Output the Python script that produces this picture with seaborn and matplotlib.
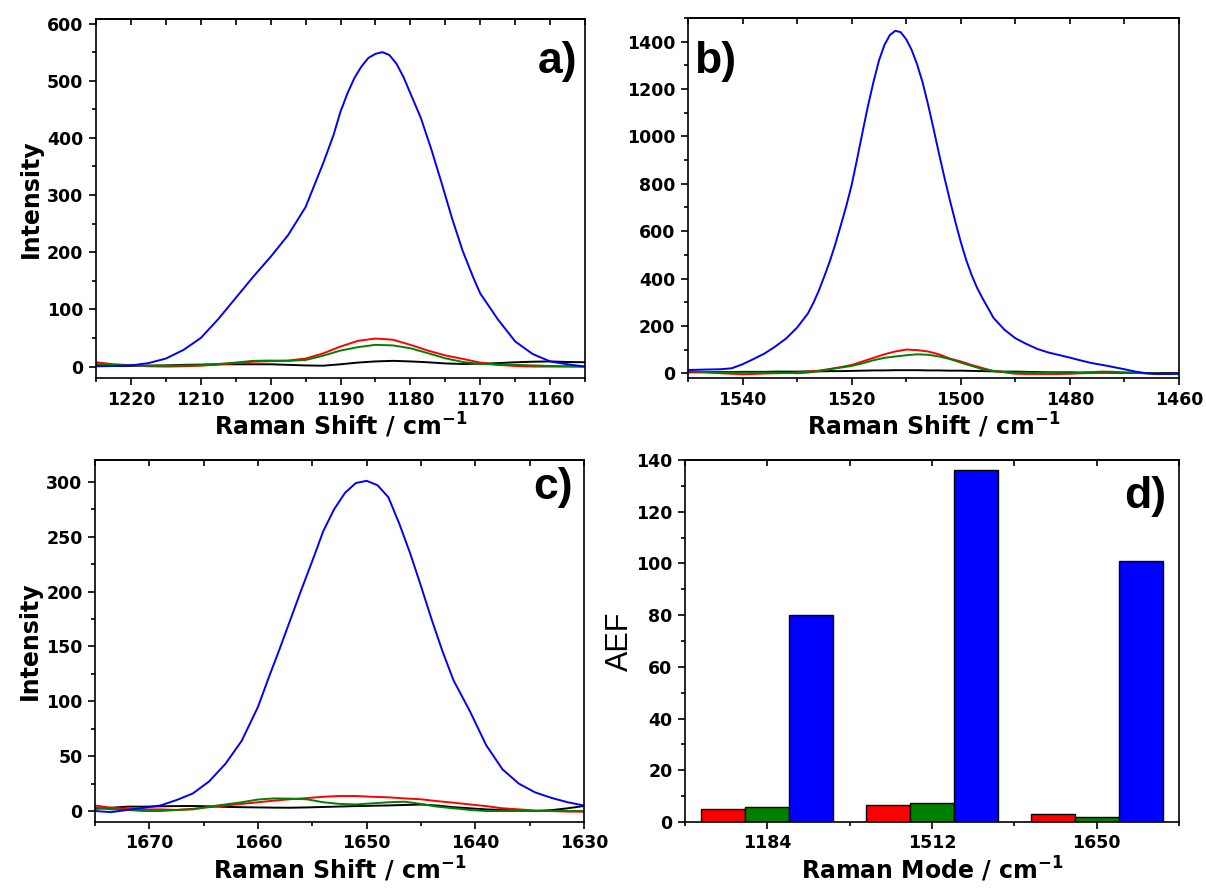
import matplotlib
matplotlib.use("Agg")
import matplotlib.pyplot as plt
from matplotlib.ticker import MultipleLocator, FixedLocator
import pandas as pd
import seaborn as sns

sns.set_style("ticks")
plt.rcParams.update({
    "font.family": ["DejaVu Sans"],
    "font.weight": "bold",
    "axes.labelweight": "bold",
    "mathtext.fontset": "dejavusans",
    "mathtext.default": "bf",
    "axes.linewidth": 1.2,
    "xtick.labelsize": 12.5,
    "ytick.labelsize": 12.5,
    "axes.edgecolor": "black",
    "axes.labelcolor": "black",
    "text.color": "black",
    "xtick.color": "black",
    "ytick.color": "black",
})

# ---------------- spectra around the 1184 cm-1 band ----------------
shift_a = [1225, 1222.5, 1220, 1217.5, 1215, 1212.5, 1210, 1207.5, 1205, 1202.5,
           1200, 1197.5, 1195, 1192.5, 1190, 1187.5, 1185, 1182.5, 1180, 1177.5,
           1175, 1172.5, 1170, 1167.5, 1165, 1162.5, 1160, 1157.5, 1155]
black_a = [0.5, 1, 1, 1.5, 2, 3, 3.5, 4, 4, 4, 4, 3, 2, 1.5, 4, 7, 9, 10, 9, 7.5,
           5.5, 4.5, 5, 6, 7.5, 8.5, 9, 8, 7.5]
red_a = [7.5, 4, 2.5, 0.5, 0, 0.5, 1.5, 3.5, 6, 8.5, 9.5, 10.5, 14, 23, 35, 45, 49,
         47, 38, 28, 19.5, 13.5, 7, 3, 1, 0, 0, 0, 0]
green_a = [4.5, 3, 2, 1.5, 1.5, 2, 2.5, 4.5, 7, 10, 10.5, 10, 11.5, 19, 28, 34, 38,
           37, 32, 23.5, 14.5, 8, 4.7, 3.5, 3, 2, 1, 0.5, 0]
shift_a_blue = [1225, 1222.5, 1220, 1217.5, 1215, 1212.5, 1210, 1207.5, 1205, 1202.5,
                1200, 1197.5, 1195, 1192.5, 1191, 1190, 1189, 1188, 1187, 1186, 1185,
                1184, 1183, 1182, 1181, 1180, 1178.5, 1177, 1175.5, 1174, 1172.5,
                1171, 1170, 1167.5, 1165, 1162.5, 1160, 1157.5, 1155]
blue_a = [1, 1, 2, 6, 14, 29, 50, 83, 120, 157, 192, 230, 279, 355, 405, 446, 478,
          505, 525, 540, 547, 550, 545, 530, 507, 478, 435, 380, 320, 258, 202, 156,
          128, 83, 44, 22, 9, 4, 0]

# ---------------- spectra around the 1512 cm-1 band ----------------
shift_b = [1550, 1548, 1546, 1544, 1542, 1540, 1538, 1536, 1534, 1532, 1530, 1528,
           1526, 1524, 1522, 1520, 1518, 1516, 1514, 1512, 1510, 1508, 1506, 1504,
           1502, 1500, 1498, 1496, 1494, 1492, 1490, 1488, 1486, 1484, 1482, 1480,
           1478, 1476, 1474, 1472, 1470, 1468, 1466, 1464, 1462, 1460]
black_b = [4, 4, 5, 5, 5, 6, 6, 6, 7, 7, 7, 8, 8, 9, 9, 10, 11, 12, 12, 13, 13, 13,
           12, 12, 11, 11, 10, 9, 8, 7, 7, 6, 5, 4, 4, 4, 3, 3, 3, 2, 2, 2, 1, 1, 1, 0]
red_b = [7, 5, 3, 0, -2, -4, -3, -1, 0, 1, 4, 7, 11, 18, 26, 35, 50, 65, 80, 92, 100,
         98, 92, 80, 62, 50, 35, 22, 9, 4, -2, -3, -3, -3, -3, -2, 0, 1, 2, 3, 3, 2,
         0, -2, -3, -4]
green_b = [10, 7, 4, 3, 3, 3, 3, 3, 3, 2, 0, 3, 9, 17, 24, 31, 42, 55, 65, 71, 76, 80,
           78, 71, 60, 45, 31, 17, 10, 5, 3, 3, 2, 2, 1, 0, 2, 5, 7, 6, 3, 1, 0, -1,
           -2, -3]
shift_b_blue = [1550, 1548, 1546, 1544, 1542, 1540, 1538, 1536, 1534, 1532, 1530,
                1528, 1527, 1526, 1525, 1524, 1523, 1522, 1521, 1520, 1519, 1518,
                1517, 1516, 1515, 1514, 1513, 1512, 1511, 1510, 1509, 1508, 1507,
                1506, 1505, 1504, 1503, 1502, 1501, 1500, 1499, 1498, 1497, 1496,
                1494, 1492, 1490, 1488, 1486, 1484, 1482, 1480, 1478, 1476, 1474,
                1472, 1470, 1468, 1466, 1464, 1462, 1460]
blue_b = [14, 15, 16, 17, 21, 38, 60, 83, 113, 147, 193, 253, 298, 350, 410, 473,
          545, 624, 705, 795, 905, 1019, 1130, 1230, 1320, 1386, 1428, 1446, 1440,
          1410, 1365, 1304, 1228, 1135, 1033, 928, 827, 731, 640, 554, 478, 414,
          360, 316, 234, 184, 148, 124, 103, 88, 77, 66, 54, 43, 35, 26, 17, 7, 0,
          -3, -3, 0]

# ---------------- spectra around the 1650 cm-1 band ----------------
shift_c = [1675, 1673.5, 1672, 1670.5, 1669, 1667.5, 1666, 1664.5, 1663, 1661.5,
           1660, 1658.5, 1657, 1655.5, 1654, 1652.5, 1651, 1649.5, 1648, 1646.5,
           1645, 1643.5, 1642, 1640.5, 1639, 1637.5, 1636, 1634.5, 1633, 1631.5, 1630]
black_c = [2, 3, 4, 4, 4.3, 4.5, 4.6, 4.3, 3.8, 3.5, 3.3, 3.1, 3, 3.3, 3.7, 4.1, 4.5,
           4.8, 5.1, 5.5, 5.9, 5, 3.5, 2.5, 1.5, 1, 0.5, 0, 0.8, 2.5, 4.6]
red_c = [5, 3, 2, 1.5, 1.5, 1, 2, 3.5, 5, 6.5, 8, 9.5, 10.8, 11.8, 13, 13.7, 13.7, 13,
         12.5, 11.5, 10.7, 9, 7.6, 6, 4.5, 2.5, 1.5, 0.5, 0, -0.5, -0.6]
green_c = [3, 1.5, 1, 0, 0, 1, 1.5, 4, 6, 8, 10.5, 11.5, 11.3, 10.7, 8, 6.5, 6, 7, 8,
           8.5, 6.5, 4, 2.5, 1, 0, 0, 0, 0, 0, 0, 0]
shift_c_blue = [1675, 1673.5, 1672, 1670.5, 1669, 1667.5, 1666, 1664.5, 1663, 1661.5,
                1660, 1659, 1658, 1657, 1656, 1655, 1654, 1653, 1652, 1651, 1650,
                1649, 1648, 1647, 1646, 1645, 1644, 1643, 1642, 1640.5, 1639, 1637.5,
                1636, 1634.5, 1633, 1631.5, 1630]
blue_c = [0, -1, 1, 3, 5, 10, 16, 27, 43, 64, 95, 122, 148, 175, 202, 228, 255, 275,
          290, 299, 301, 297, 286, 262, 235, 205, 174, 145, 119, 91, 60, 38, 25, 17,
          12, 8, 5]

# ---------------- analytical enhancement factors ----------------
modes = ["1184", "1512", "1650"]
aef_red = [5.0, 6.6, 3.1]
aef_green = [5.9, 7.3, 1.8]
aef_blue = [80, 136, 101]

samples = ["reference", "sample 1", "sample 2", "sample 3"]
colors = {"reference": "black", "sample 1": "#ff0000",
          "sample 2": "#008000", "sample 3": "#0000ff"}


def spectra_frame(series):
    rows = []
    for name, (shift, values) in zip(samples, series):
        for s, v in zip(shift, values):
            rows.append({"shift": s, "intensity": v, "sample": name})
    return pd.DataFrame(rows)


W, H = 1206, 890
fig = plt.figure(figsize=(W / 100, H / 100), dpi=100)


def box(left, top, right, bottom):
    return fig.add_axes([left / W, 1 - bottom / H, (right - left) / W, (bottom - top) / H])


def dress(ax, xmaj, xmin, ymaj, ymin):
    ax.xaxis.set_major_locator(xmaj)
    ax.xaxis.set_minor_locator(xmin)
    ax.yaxis.set_major_locator(MultipleLocator(ymaj))
    ax.yaxis.set_minor_locator(MultipleLocator(ymin))
    ax.tick_params(which="major", direction="out", length=5, width=1.2,
                   top=False, right=False, pad=4)
    ax.tick_params(which="minor", direction="out", length=3, width=1.2,
                   top=False, right=False)
    top = ax.secondary_xaxis("top")
    top.xaxis.set_major_locator(xmaj)
    top.xaxis.set_minor_locator(xmin)
    top.tick_params(which="major", direction="in", length=4, width=1.2, labeltop=False)
    top.tick_params(which="minor", direction="in", length=4, width=1.2, labeltop=False)
    for sp in ax.spines.values():
        sp.set_visible(True)
        sp.set_linewidth(1.2)
    top.spines["top"].set_linewidth(1.2)


def spectrum_panel(ax, series, xlim, ylim, xstep, ystep, tag, tag_xy, tag_ha,
                   ylabel=True):
    df = spectra_frame(series)
    sns.lineplot(data=df, x="shift", y="intensity", hue="sample", hue_order=samples,
                 palette=colors, linewidth=1.4, legend=False, ax=ax)
    ax.set_xlim(*xlim)
    ax.set_ylim(*ylim)
    dress(ax, MultipleLocator(xstep), MultipleLocator(xstep / 2), ystep, ystep / 2)
    ax.set_xlabel("Raman Shift / cm$^{-1}$", fontsize=17, labelpad=2)
    ax.set_ylabel("Intensity" if ylabel else "", fontsize=17, labelpad=3)
    ax.text(tag_xy[0], tag_xy[1], tag, transform=ax.transAxes, ha=tag_ha, va="top",
            fontsize=32, fontweight="bold", family=["Liberation Sans", "DejaVu Sans"])


ax_a = box(96, 19, 585, 378)
spectrum_panel(ax_a, [(shift_a, black_a), (shift_a, red_a), (shift_a, green_a),
                      (shift_a_blue, blue_a)],
               (1225, 1155), (-20, 608), 10, 100, "a)", (0.985, 0.94), "right")

ax_b = box(688, 18, 1179, 378)
spectrum_panel(ax_b, [(shift_b, black_b), (shift_b, red_b), (shift_b, green_b),
                      (shift_b_blue, blue_b)],
               (1550, 1460), (-20, 1500), 20, 200, "b)", (0.012, 0.935), "left",
               ylabel=False)

ax_c = box(95, 460, 584, 822)
spectrum_panel(ax_c, [(shift_c, black_c), (shift_c, red_c), (shift_c, green_c),
                      (shift_c_blue, blue_c)],
               (1675, 1630), (-10, 320), 10, 50, "c)", (0.978, 0.98), "right")

# bar chart of enhancement factors
ax_d = box(685, 460, 1179, 822)
bars = pd.DataFrame({
    "mode": modes * 3,
    "aef": aef_red + aef_green + aef_blue,
    "sample": ["sample 1"] * 3 + ["sample 2"] * 3 + ["sample 3"] * 3,
})
sns.barplot(data=bars, x="mode", y="aef", hue="sample",
            hue_order=["sample 1", "sample 2", "sample 3"], palette=colors,
            saturation=1, edgecolor="black", linewidth=1.0, width=0.8,
            legend=False, ax=ax_d)
ax_d.set_xlim(-0.5, 2.5)
ax_d.set_ylim(0, 140)
dress(ax_d, FixedLocator([0, 1, 2]), FixedLocator([-0.5, 0.5, 1.5, 2.5]), 20, 10)
ax_d.set_xticks([0, 1, 2], modes)
ax_d.set_xlabel("Raman Mode / cm$^{-1}$", fontsize=17, labelpad=2)
ax_d.set_ylabel("AEF", fontsize=22, fontweight="normal",
                family=["Liberation Sans", "DejaVu Sans"], labelpad=1)
ax_d.text(0.975, 0.955, "d)", transform=ax_d.transAxes, ha="right", va="top",
          fontsize=32, fontweight="bold", family=["Liberation Sans", "DejaVu Sans"])

fig.savefig("out.png", dpi=100)
